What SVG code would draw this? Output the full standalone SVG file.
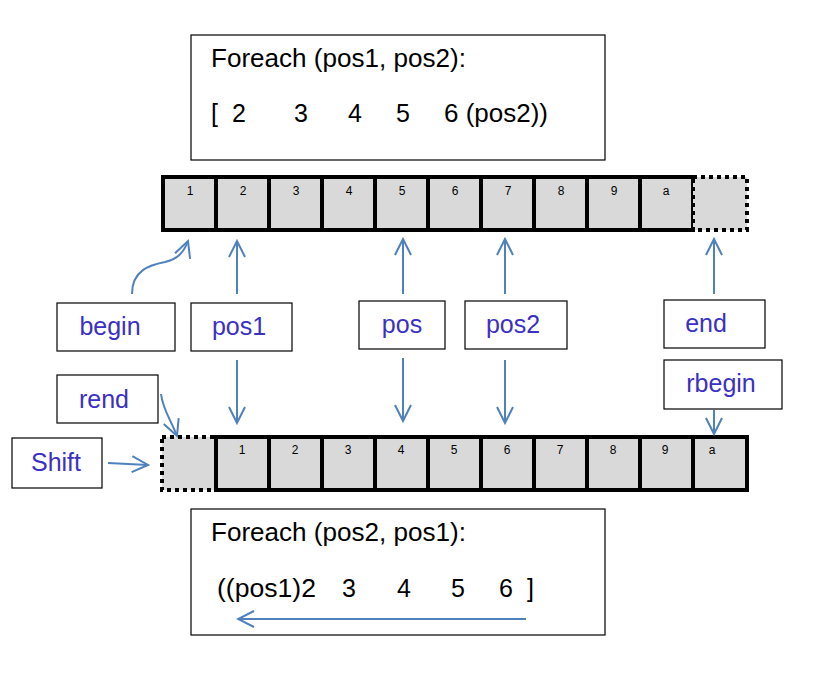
<svg xmlns="http://www.w3.org/2000/svg" width="825" height="676" viewBox="0 0 825 676">
<defs>
<style>
.box{fill:#fff;stroke:#000;stroke-width:1.2}
.lbl{font-family:"Liberation Sans",Arial,sans-serif;font-size:25px;fill:#3b30c4;text-anchor:middle}
.code{font-family:"Liberation Sans",Arial,sans-serif;font-size:25px;fill:#000}
.cell{fill:#d9d9d9;stroke:#000;stroke-width:4}
.dcell{fill:#d9d9d9;stroke:#000;stroke-width:4;stroke-dasharray:4 4}
.num{font-family:"Liberation Sans",Arial,sans-serif;font-size:12px;fill:#000;text-anchor:middle}
.arr{fill:none;stroke:#4f81bd;stroke-width:2;marker-end:url(#v)}
</style>
<marker id="v" viewBox="0 0 20 20" refX="18" refY="10" markerWidth="20" markerHeight="20" markerUnits="userSpaceOnUse" orient="auto">
<path d="M2,2 L18,10 L2,18" fill="none" stroke="#4f81bd" stroke-width="2"/>
</marker>
</defs>

<g id="top-box">
<rect class="box" x="191" y="35" width="414" height="125"/>
<text class="code" x="211" y="67" textLength="255" lengthAdjust="spacingAndGlyphs">Foreach (pos1, pos2):</text>
<text class="code" x="211" y="122">[</text>
<text class="code" x="232" y="122">2</text>
<text class="code" x="294" y="122">3</text>
<text class="code" x="348" y="122">4</text>
<text class="code" x="396" y="122">5</text>
<text class="code" x="444" y="122" textLength="104" lengthAdjust="spacingAndGlyphs">6 (pos2))</text>
</g>

<g id="top-array">
<rect class="cell" x="163" y="177" width="53" height="53"/>
<rect class="cell" x="216" y="177" width="53" height="53"/>
<rect class="cell" x="269" y="177" width="53" height="53"/>
<rect class="cell" x="322" y="177" width="53" height="53"/>
<rect class="cell" x="375" y="177" width="53" height="53"/>
<rect class="cell" x="428" y="177" width="53" height="53"/>
<rect class="cell" x="481" y="177" width="53" height="53"/>
<rect class="cell" x="534" y="177" width="53" height="53"/>
<rect class="cell" x="587" y="177" width="53" height="53"/>
<rect class="cell" x="640" y="177" width="53" height="53"/>
<rect class="dcell" x="693" y="177" width="54" height="53"/>
<text class="num" x="190" y="195">1</text>
<text class="num" x="243" y="195">2</text>
<text class="num" x="296" y="195">3</text>
<text class="num" x="349" y="195">4</text>
<text class="num" x="402" y="195">5</text>
<text class="num" x="455" y="195">6</text>
<text class="num" x="508" y="195">7</text>
<text class="num" x="561" y="195">8</text>
<text class="num" x="614" y="195">9</text>
<text class="num" x="666" y="195">a</text>
</g>

<g id="bottom-array">
<rect class="dcell" x="162" y="437" width="54" height="53"/>
<rect class="cell" x="216" y="437" width="53" height="53"/>
<rect class="cell" x="269" y="437" width="53" height="53"/>
<rect class="cell" x="322" y="437" width="53" height="53"/>
<rect class="cell" x="375" y="437" width="53" height="53"/>
<rect class="cell" x="428" y="437" width="53" height="53"/>
<rect class="cell" x="481" y="437" width="53" height="53"/>
<rect class="cell" x="534" y="437" width="53" height="53"/>
<rect class="cell" x="587" y="437" width="53" height="53"/>
<rect class="cell" x="640" y="437" width="53" height="53"/>
<rect class="cell" x="693" y="437" width="54" height="53"/>
<text class="num" x="242" y="454">1</text>
<text class="num" x="295" y="454">2</text>
<text class="num" x="348" y="454">3</text>
<text class="num" x="401" y="454">4</text>
<text class="num" x="454" y="454">5</text>
<text class="num" x="507" y="454">6</text>
<text class="num" x="560" y="454">7</text>
<text class="num" x="613" y="454">8</text>
<text class="num" x="665" y="454">9</text>
<text class="num" x="712" y="454">a</text>
</g>

<g id="bottom-box">
<rect class="box" x="191" y="509" width="414" height="126"/>
<text class="code" x="211" y="541" textLength="255" lengthAdjust="spacingAndGlyphs">Foreach (pos2, pos1):</text>
<text class="code" x="217" y="597" textLength="99" lengthAdjust="spacingAndGlyphs">((pos1)2</text>
<text class="code" x="342" y="597">3</text>
<text class="code" x="397" y="597">4</text>
<text class="code" x="451" y="597">5</text>
<text class="code" x="499" y="597">6</text>
<text class="code" x="527" y="597">]</text>
</g>

<g id="begin"><rect class="box" x="57" y="303" width="118" height="48"/><text class="lbl" x="110" y="335">begin</text></g>
<g id="pos1"><rect class="box" x="191" y="303" width="101" height="48"/><text class="lbl" x="239" y="335">pos1</text></g>
<g id="pos"><rect class="box" x="359" y="301" width="86" height="48"/><text class="lbl" x="402" y="333">pos</text></g>
<g id="pos2"><rect class="box" x="465" y="301" width="102" height="48"/><text class="lbl" x="513" y="333">pos2</text></g>
<g id="end"><rect class="box" x="664" y="300" width="101" height="48"/><text class="lbl" x="706" y="332">end</text></g>
<g id="rend"><rect class="box" x="57" y="375" width="101" height="48"/><text class="lbl" x="104" y="408">rend</text></g>
<g id="rbegin"><rect class="box" x="664" y="360" width="118" height="49"/><text class="lbl" x="721" y="392">rbegin</text></g>
<g id="shift"><rect class="box" x="12" y="438" width="90" height="50"/><text class="lbl" x="56" y="471">Shift</text></g>

<g id="connectors">
<path class="arr" d="M132,294 C132,270 150,265 165,262 C178,259 184,252 188,241"/>
<path class="arr" d="M237,294 L237,241"/>
<path class="arr" d="M403,294 L403,239"/>
<path class="arr" d="M505,294 L505,239"/>
<path class="arr" d="M714,294 L714,239"/>
<path class="arr" d="M237,360 L237,423"/>
<path class="arr" d="M403,358 L403,421"/>
<path class="arr" d="M505,360 L505,423"/>
<path class="arr" d="M714,410 L714,434"/>
<path class="arr" d="M161,394 C163,410 170,418 177,436"/>
<path class="arr" d="M108,463 L148,465"/>
<path class="arr" d="M526,619 L238,619"/>
</g>
</svg>
